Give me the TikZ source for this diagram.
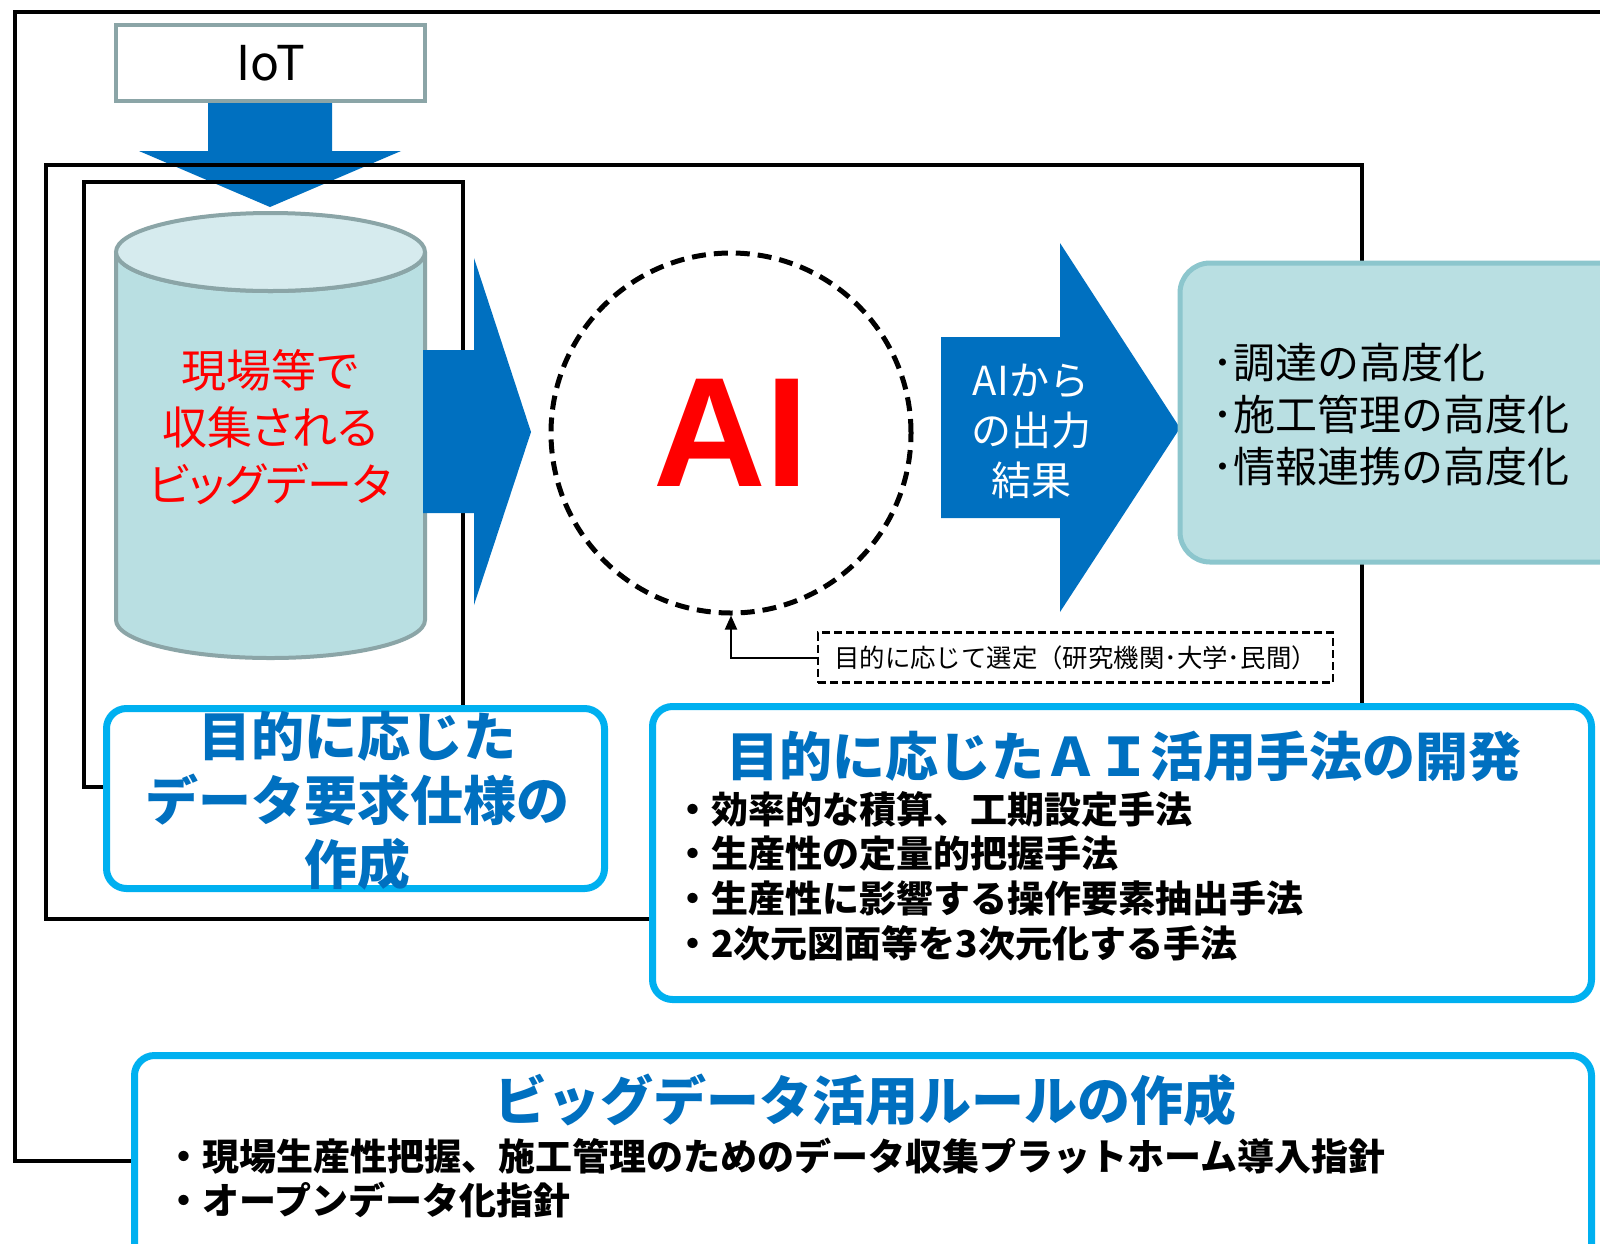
\documentclass[tikz,border=0pt]{standalone}
\usepackage{fontspec}
\setmainfont{Noto Sans CJK JP}
\newfontfamily\aifont{Liberation Sans}
\newfontfamily\jpprop[RawFeature=+palt]{Noto Sans CJK JP}
\usetikzlibrary{arrows.meta}
\definecolor{blueA}{HTML}{0070C0}
\definecolor{cyanB}{HTML}{00B0F0}
\definecolor{tealF}{HTML}{B9DFE2}
\definecolor{tealT}{HTML}{D6EBEE}
\definecolor{grayS}{HTML}{8BA5A7}
\definecolor{tealS}{HTML}{8CC6CD}
\definecolor{redT}{HTML}{FF0000}
\tikzset{
  frameline/.style={draw=black, line width=2pt},
  blockarrow/.style={fill=blueA, draw=none},
  bluebox/.style={draw=cyanB, line width=3.5pt, fill=white, rounded corners=10pt},
  bluetitle/.style={text=blueA, font=\bfseries\fontsize{26.5}{32}\selectfont, align=center, inner sep=0pt},
  bullets/.style={text=black, font=\bfseries\fontsize{18.5}{22.4}\selectfont, align=left, anchor=west, inner sep=0pt},
}
\begin{document}
\begin{tikzpicture}[x=0.5pt,y=-0.5pt]
\useasboundingbox (0,0) rectangle (1600,1243);
\clip (0,0) rectangle (1600,1243);
\fill[white] (0,0) rectangle (1600,1243);

% IoT box and down arrow
\fill[blockarrow] (208,100) -- (332,100) -- (332,151) -- (401,151) -- (270,207) -- (139,151) -- (208,151) -- cycle;
\node[draw=grayS, line width=2pt, fill=white, minimum width=154.5pt, minimum height=38pt, inner sep=0pt,
      font=\fontsize{24}{24}\selectfont] (iot) at (270.5,63) {IoT};

% frames
\draw[frameline] (1700,12) -- (15,12) -- (15,1161) -- (140,1161);
\draw[frameline] (46,165) rectangle (1362,919);
\draw[frameline] (84,182) rectangle (463,787);

% cylinder
\filldraw[fill=tealF, draw=grayS, line width=2pt]
  (116,252) -- (116,620) arc[start angle=180, end angle=0, x radius=154.5, y radius=38]
  -- (425,252) arc[start angle=0, end angle=180, x radius=154.5, y radius=39] -- cycle;
\filldraw[fill=tealT, draw=grayS, line width=2pt] (270.5,252) ellipse [x radius=154.5, y radius=39];
\node[text=redT, font=\jpprop\fontsize{22.5}{28.5}\selectfont, align=center, inner sep=0pt] (bigdata) at (270,427)
  {現場等で\\収集される\\ビッグデータ};

% arrow cylinder -> AI
\fill[blockarrow] (423,350) -- (474,350) -- (474,258) -- (531,432) -- (474,605) -- (474,513) -- (423,513) -- cycle;

% AI circle
\node[circle, draw=black, line width=2.5pt, dash pattern=on 7pt off 4pt, minimum size=180pt, inner sep=0pt,
      text=redT, font=\aifont\bfseries\fontsize{78}{78}\selectfont] (ai) at (731,433) {AI};

% output arrow
\fill[blockarrow] (941,337) -- (1060,337) -- (1060,243) -- (1180,428) -- (1060,612) -- (1060,518) -- (941,518) -- cycle;
\node[text=white, font=\fontsize{20}{25}\selectfont, align=center, inner sep=0pt] (outtxt) at (1031,431)
  {AIから\\の出力\\結果};

% results box
\filldraw[fill=tealF, draw=tealS, line width=2.5pt, rounded corners=15pt] (1180,263) rectangle (1680,562);
\node[anchor=west, align=left, inner sep=0pt, font=\fontsize{21}{26}\selectfont] (res) at (1212,415)
  {･調達の高度化\\･施工管理の高度化\\･情報連携の高度化};

% selection box and connector
\node[draw=black, line width=1.2pt, dash pattern=on 4pt off 2pt, minimum width=257.5pt, minimum height=25pt,
      inner sep=0pt, font=\fontsize{12.7}{12.7}\selectfont] (sel) at (1075.5,657.5)
  {目的に応じて選定（研究機関･大学･民間）};
\draw[line width=1pt, -{Triangle[length=7pt,width=6pt]}] (sel.west) -| (ai.south);

% left blue box
\draw[bluebox] (106.5,708.5) rectangle (604.5,888.5);
\node[bluetitle] (spec) at (357,801) {目的に応じた\\データ要求仕様の\\作成};

% right blue box
\draw[bluebox] (652.5,706.5) rectangle (1591.5,999.5);
\node[bluetitle] (aidev) at (1124,756) {目的に応じたＡＩ活用手法の開発};
\node[bullets] (aibul) at (674,876)
  {・効率的な積算、工期設定手法\\・生産性の定量的把握手法\\・生産性に影響する操作要素抽出手法\\・2次元図面等を3次元化する手法};

% bottom blue box
\draw[bluebox] (134.5,1055.5) rectangle (1591.5,1320);
\node[bluetitle] (rule) at (865,1100) {ビッグデータ活用ルールの作成};
\node[bullets] (rulebul) at (165,1178)
  {・現場生産性把握、施工管理のためのデータ収集プラットホーム導入指針\\・オープンデータ化指針};
\end{tikzpicture}
\end{document}
